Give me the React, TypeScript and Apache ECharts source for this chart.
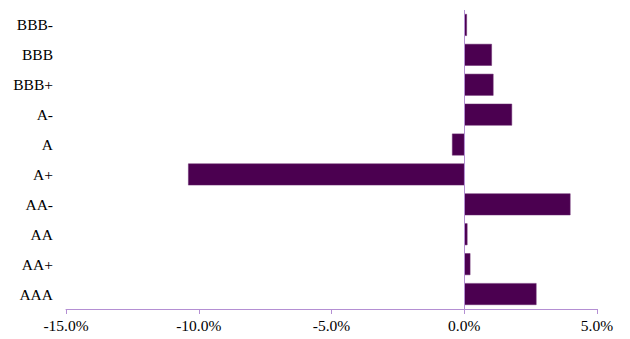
import React, { useEffect, useRef } from "react";
import * as echarts from "echarts";

// Rating buckets, bottom to top
const ratings = ["AAA", "AA+", "AA", "AA-", "A+", "A", "A-", "BBB+", "BBB", "BBB-"];
// Change in percent for each bucket
const changes = [2.72, 0.23, 0.12, 4.0, -10.4, -0.46, 1.8, 1.1, 1.04, 0.1];
// Value axis ticks
const xTicks = [-15, -10, -5, 0, 5];

const BAR = "#4b0050";
const AXIS = "#b48fd3";
const FONT = "'Liberation Serif', 'DejaVu Serif', serif";

export default function App() {
  const ref = useRef<HTMLDivElement>(null);

  useEffect(() => {
    if (!ref.current) return;
    const chart = echarts.init(ref.current, undefined, { renderer: "svg" });
    chart.setOption({
      animation: false,
      grid: { left: 66, right: 33, top: 10, bottom: 30 },
      xAxis: {
        type: "value",
        min: xTicks[0],
        max: xTicks[xTicks.length - 1],
        interval: 5,
        splitLine: { show: false },
        axisLine: { show: true, lineStyle: { color: AXIS, width: 1 } },
        axisTick: { show: true, length: 5, lineStyle: { color: AXIS } },
        axisLabel: {
          margin: 8,
          color: "#000",
          fontFamily: FONT,
          fontSize: 15.5,
          formatter: (v: number) => v.toFixed(1) + "%",
        },
      },
      yAxis: {
        type: "category",
        data: ratings,
        axisLine: { show: false },
        axisTick: { show: false },
        axisLabel: { margin: 13, color: "#000", fontFamily: FONT, fontSize: 15.5 },
      },
      series: [
        {
          type: "bar",
          data: changes,
          barCategoryGap: "27%",
          itemStyle: { color: BAR, borderColor: "#6a2a70", borderWidth: 0.5 },
          markLine: {
            silent: true,
            symbol: "none",
            label: { show: false },
            lineStyle: { color: AXIS, type: "solid", width: 1 },
            data: [{ xAxis: 0 }],
          },
        },
      ],
    });
    return () => chart.dispose();
  }, []);

  return <div ref={ref} style={{ width: 630, height: 339, margin: -8 }} />;
}
